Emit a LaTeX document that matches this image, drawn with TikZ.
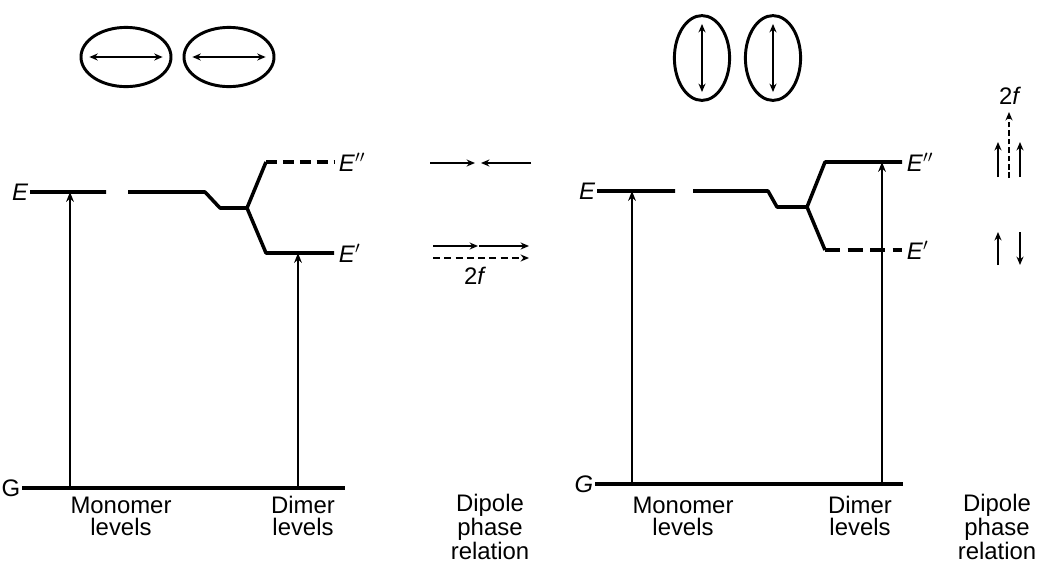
\documentclass[tikz,border=0pt]{standalone}
\usepackage{fontspec}
\setmainfont{Liberation Sans}
\usetikzlibrary{arrows.meta,shapes.geometric}

\begin{document}
\begin{tikzpicture}[x=0.025cm, y=-0.025cm, line cap=butt, line join=round,
    every node/.style={font=\fontsize{17pt}{15.5pt}\selectfont},
    level/.style={line width=2.5pt},
    trans/.style={line width=1.7pt, -{Stealth[length=7pt,width=5.5pt]}},
    dip/.style={line width=1.5pt, -{Stealth[length=6pt,width=5pt]}},
    dipboth/.style={line width=1.3pt, {Stealth[length=6pt,width=5pt]}-{Stealth[length=6pt,width=5pt]}, shorten <=7, shorten >=7},
    molec/.style={draw, ellipse, line width=2.1pt, inner sep=0pt}]
  \useasboundingbox (0,0) rectangle (1052,567);

  % left: head-to-tail dimer
  \node[molec, minimum width=2.25cm, minimum height=1.48cm] (m1) at (126,57) {};
  \node[molec, minimum width=2.25cm, minimum height=1.48cm] (m2) at (229,57) {};
  \draw[dipboth] (m1.west)--(m1.east);
  \draw[dipboth] (m2.west)--(m2.east);

  \coordinate (lE0) at (30,192);
  \coordinate (lE1) at (106,192);
  \coordinate (lE2) at (128,192);
  \coordinate (lE3) at (205,192);
  \coordinate (lK1) at (220,208);
  \coordinate (lK2) at (247,208);
  \coordinate (lU)  at (266,162);
  \coordinate (lU2) at (334,162);
  \coordinate (lD)  at (266,253);
  \coordinate (lD2) at (334,253);
  \coordinate (lG0) at (22,488);
  \coordinate (lG1) at (345,488);
  \coordinate (lA1) at (70,488);
  \coordinate (lA2) at (298,488);

  \draw[level] (lE0)--(lE1) (lE2)--(lE3)--(lK1)--(lK2)--(lU);
  \draw[level] (lK2)--(lD)--(lD2);
  \draw[level, dash pattern=on 8pt off 4pt] (lU)--(lU2);
  \draw[level] (lG0)--(lG1);
  \draw[trans] (lA1)--(lA1|-lE0);
  \draw[trans] (lA2)--(lA2|-lD);

  \node[left, inner sep=1pt] (lEl) at (lE0) {\textit{E}};
  \node[right] (lEpp) at (lU2) {\textit{E}$''$};
  \node[right] (lEp) at (lD2) {\textit{E}$'$};
  \node[left, inner sep=1pt] (lGl) at (lG0) {G};

  % left: phase of the dipoles
  \coordinate (lp1) at (430,163); \coordinate (lp2) at (475,163);
  \coordinate (lp3) at (531,163); \coordinate (lp4) at (481,163);
  \coordinate (lq1) at (433,246); \coordinate (lq2) at (478,246);
  \coordinate (lq3) at (479,246); \coordinate (lq4) at (529,246);
  \coordinate (lr1) at (433,258); \coordinate (lr2) at (529,258);
  \draw[dip] (lp1)--(lp2);
  \draw[dip] (lp3)--(lp4);
  \draw[dip] (lq1)--(lq2);
  \draw[dip] (lq3)--(lq4);
  \draw[dip, dash pattern=on 5pt off 3pt] (lr1)--(lr2);
  \node (l2f) at (475,276) {2\textit{f}};

  \node[align=center] (lmono) at (121,516) {Monomer\\levels};
  \node[align=center] (ldim) at (303,516) {Dimer\\levels};
  \node[align=center] (lphase) at (490,527) {Dipole\\phase\\relation};

  % right: side-by-side dimer
  \node[molec, minimum width=1.38cm, minimum height=2.12cm] (m3) at (702,58) {};
  \node[molec, minimum width=1.38cm, minimum height=2.12cm] (m4) at (773,58) {};
  \draw[dipboth, line width=1.1pt] (m3.north)--(m3.south);
  \draw[dipboth, line width=1.1pt] (m4.north)--(m4.south);

  \coordinate (rE0) at (597,191);
  \coordinate (rE1) at (675,191);
  \coordinate (rE2) at (693,191);
  \coordinate (rE3) at (768,191);
  \coordinate (rK1) at (777,207);
  \coordinate (rK2) at (807,207);
  \coordinate (rU)  at (825,162);
  \coordinate (rU2) at (902,162);
  \coordinate (rD)  at (825,250);
  \coordinate (rD2) at (902,250);
  \coordinate (rG0) at (595,484);
  \coordinate (rG1) at (903,484);
  \coordinate (rA1) at (632,484);
  \coordinate (rA2) at (882,484);

  \draw[level] (rE0)--(rE1) (rE2)--(rE3)--(rK1)--(rK2)--(rU)--(rU2);
  \draw[level] (rK2)--(rD);
  \draw[level, dash pattern=on 11pt off 5pt] (rD)--(rD2);
  \draw[level] (rG0)--(rG1);
  \draw[trans] (rA1)--(rA1|-rE0);
  \draw[trans, line width=1pt] (rA2)--(rA2|-rU);

  \node[left, inner sep=1pt] (rEl) at (rE0) {\textit{E}};
  \node[right] (rEpp) at (rU2) {\textit{E}$''$};
  \node[right] (rEp) at (rD2) {\textit{E}$'$};
  \node[left, inner sep=1pt] (rGl) at (rG0) {\textit{G}};

  % right: phase of the dipoles
  \coordinate (rp1) at (998,177); \coordinate (rp2) at (998,142);
  \coordinate (rp3) at (1020,177); \coordinate (rp4) at (1020,142);
  \coordinate (rs1) at (1009,178); \coordinate (rs2) at (1009,112);
  \coordinate (rq1) at (998,265); \coordinate (rq2) at (998,232);
  \coordinate (rq3) at (1020,232); \coordinate (rq4) at (1020,265);
  \draw[dip] (rp1)--(rp2);
  \draw[dip] (rp3)--(rp4);
  \draw[dip, dash pattern=on 4pt off 2pt] (rs1)--(rs2);
  \draw[dip] (rq1)--(rq2);
  \draw[dip] (rq3)--(rq4);
  \node (r2f) at (1010,96) {2\textit{f}};

  \node[align=center] (rmono) at (683,516) {Monomer\\levels};
  \node[align=center] (rdim) at (860,516) {Dimer\\levels};
  \node[align=center] (rphase) at (997,527) {Dipole\\phase\\relation};
\end{tikzpicture}
\end{document}
